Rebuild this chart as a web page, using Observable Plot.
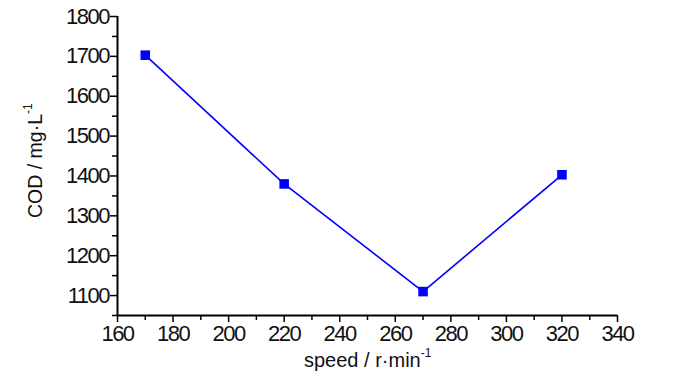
<!DOCTYPE html>
<html><head><meta charset="utf-8">
<script src="https://cdn.jsdelivr.net/npm/d3@7"></script>
<script src="https://cdn.jsdelivr.net/npm/@observablehq/plot@0.6"></script>
<style>
body{margin:0;background:#fff;}
svg text{font-family:"Liberation Sans",Arial,sans-serif;}
g[aria-label$="tick label"] text{letter-spacing:-1.5px;font-size:22px !important;}
</style>
</head><body>
<div id="chart"></div>
<script>
const speed = [170, 220, 270, 320];
const cod = [1703, 1380, 1110, 1403];
const xMajor = [160, 180, 200, 220, 240, 260, 280, 300, 320, 340];
const xMinor = [170, 190, 210, 230, 250, 270, 290, 310, 330];
const yMajor = [1100, 1200, 1300, 1400, 1500, 1600, 1700, 1800];
const yMinor = [1050, 1150, 1250, 1350, 1450, 1550, 1650, 1750];
const xLabel = "speed / r·min";
const yLabel = "COD / mg·L";
const sup = "-1";

const data = speed.map((s, i) => ({speed: s, cod: cod[i]}));

const plot = Plot.plot({
  width: 700, height: 374,
  marginLeft: 117, marginRight: 83, marginTop: 16, marginBottom: 59,
  x: {domain: [160, 340]},
  y: {domain: [1050, 1800]},
  style: {fontFamily: "Liberation Sans, Arial, sans-serif", background: "#fff"},
  marks: [
    Plot.axisX({ticks: xMinor, tickSize: 5, tickFormat: () => "", strokeWidth: 1.5, label: null}),
    Plot.axisX({ticks: xMajor, tickSize: 7, tickFormat: d => String(d), fontSize: 22, tickPadding: 3, strokeWidth: 1.5, label: null, fill: "#111"}),
    Plot.axisY({ticks: yMinor, tickSize: 5, tickFormat: () => "", strokeWidth: 1.5, label: null}),
    Plot.axisY({ticks: yMajor, tickSize: 7, tickFormat: d => String(d), fontSize: 22, tickPadding: 1.5, strokeWidth: 1.5, label: null, fill: "#111"}),
    Plot.ruleX([160], {strokeWidth: 2}),
    Plot.ruleY([1050], {strokeWidth: 2}),
    Plot.line(data, {x: "speed", y: "cod", stroke: "#0000ff", strokeWidth: 1.6}),
    Plot.dot(data, {x: "speed", y: "cod", symbol: "square", r: 5.4, fill: "#0000ff", stroke: "none"})
  ]
});
document.getElementById("chart").appendChild(plot);

const svg = d3.select(plot);
const xt = svg.append("text").attr("x", 304).attr("y", 367).attr("text-anchor", "start")
  .attr("font-size", 20).attr("fill", "#111");
xt.append("tspan").text(xLabel);
xt.append("tspan").attr("font-size", 12).attr("dy", -10).text(sup);

const yt = svg.append("text").attr("transform", "translate(42,218) rotate(-90)").attr("text-anchor", "start")
  .attr("font-size", 19.5).attr("fill", "#111");
yt.append("tspan").text(yLabel);
yt.append("tspan").attr("font-size", 12).attr("dy", -10).text(sup);
</script>
</body></html>
